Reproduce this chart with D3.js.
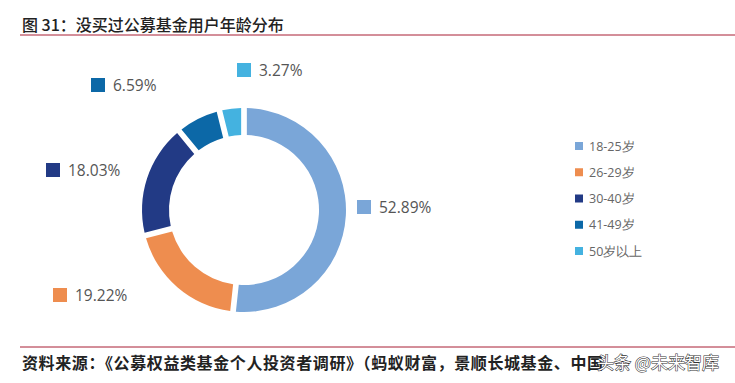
<!DOCTYPE html>
<html><head><meta charset="utf-8">
<script src="https://cdn.jsdelivr.net/npm/d3@7"></script>
<style>body{margin:0;background:#fff}</style>
</head><body>
<script>
const categories = ["18-25岁","26-29岁","30-40岁","41-49岁","50岁以上"];
const values = [52.89, 19.22, 18.03, 6.59, 3.27];
const labels = ["52.89%","19.22%","18.03%","6.59%","3.27%"];
const colors = ["#7AA6D8","#EE8D4F","#223A85","#0C68A7","#44B2E0"];

const W=735,H=383;
const svg=d3.select("body").append("svg").attr("width",W).attr("height",H);
const cjk="'Noto Sans CJK SC','Noto Sans',sans-serif";
const lat="'Open Sans','Noto Sans',sans-serif";

// title
svg.append("text").attr("x",22).attr("y",31).attr("font-family",cjk).attr("font-size",16).attr("font-weight",500).attr("fill","#222").text("图 31：没买过公募基金用户年龄分布");
svg.append("line").attr("x1",20).attr("x2",735).attr("y1",35).attr("y2",35).attr("stroke","#A81F35").attr("stroke-width",1);

// donut
const cx=244,cy=210,rO=102,rI=75;
const pie=d3.pie().sort(null).value(d=>d).padAngle(0.045);
const arc=d3.arc().innerRadius(rI).outerRadius(rO);
const g=svg.append("g").attr("transform",`translate(${cx},${cy})`);
g.selectAll("path").data(pie(values)).join("path").attr("d",arc).attr("fill",(d,i)=>colors[i]);

// data labels (positions per slice)
const labelPos=[[357,200],[53,288],[46,163],[91,78],[237,63]];
const lg=svg.append("g");
labelPos.forEach((p,i)=>{
  lg.append("rect").attr("x",p[0]).attr("y",p[1]).attr("width",14).attr("height",14).attr("fill",colors[i]);
  lg.append("text").attr("x",p[0]+22).attr("y",p[1]+7).attr("dy","0.36em").attr("font-family",lat).attr("font-size",15.5).attr("fill","#555").text(labels[i]);
});

// legend
const leg=svg.append("g");
const ly=d3.scalePoint().domain(categories).range([146,251]);
categories.forEach((c,i)=>{
  leg.append("rect").attr("x",575).attr("y",ly(c)-4).attr("width",8).attr("height",8).attr("fill",colors[i]);
  leg.append("text").attr("x",589).attr("y",ly(c)).attr("dy","0.36em").attr("font-family",lat).attr("font-size",12.5).attr("fill","#666").text(c);
});

// footer
svg.append("line").attr("x1",20).attr("x2",735).attr("y1",347).attr("y2",347).attr("stroke","#A81F35").attr("stroke-width",1);
svg.append("text").attr("x",22).attr("y",369).attr("font-family",cjk).attr("font-size",16).attr("font-weight",600).attr("letter-spacing",0.6).attr("fill","#222").text("资料来源：《公募权益类基金个人投资者调研》（蚂蚁财富，景顺长城基金、中国");
svg.append("text").attr("x",597).attr("y",369).attr("font-family",cjk).attr("font-size",17).attr("fill","#fff").attr("stroke","#333").attr("stroke-width",1.1).attr("paint-order","stroke").text("头条 @未来智库");
</script>
</body></html>
